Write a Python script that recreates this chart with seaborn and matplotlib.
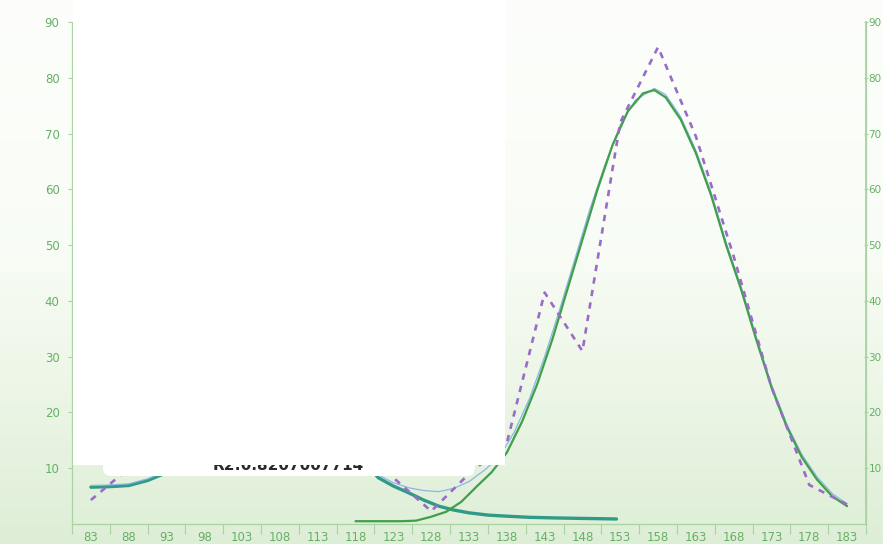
import numpy as np
import pandas as pd
import seaborn as sns
import matplotlib.pyplot as plt
from matplotlib.patches import Rectangle, FancyBboxPatch
from matplotlib.transforms import IdentityTransform, Bbox

# Data
categories = [83, 88, 93, 98, 103, 108, 113, 118, 123, 128, 133,
              138, 143, 148, 153, 158, 163, 168, 173, 178, 183]
observed = [4.3, 10, 18, 26, 31, 29, 22, 17, 8.3, 2.3, 9,
            14.5, 41.5, 31, 72, 85.5, 69.5, 48, 24.5, 7, 3.5]

# main peak fit (green)
fit_x = [118, 121, 124, 126, 128, 130, 132, 134, 136, 138, 140, 142, 144, 146,
         148, 150, 152, 154, 156, 157.5, 159, 161, 163, 165, 167, 169, 171,
         173, 175, 177, 179, 181, 183]
fit_y = [0.5, 0.5, 0.5, 0.6, 1.3, 2.2, 4.0, 6.7, 9.3, 12.8, 18.3, 25, 33, 42,
         51, 60, 68, 74, 77.2, 77.8, 76.5, 72.5, 66.5, 59, 50, 42, 33,
         24.5, 17.5, 12, 8, 5, 3.2]

# left component (teal)
left_x = [83, 85.5, 88, 90.5, 93, 98, 103, 108, 113, 118, 121, 123, 125, 127,
          129, 131, 133, 135.5, 138, 141, 144, 148, 152.5]
left_y = [6.6, 6.7, 6.9, 7.8, 9.2, 16, 22, 24, 20, 13, 8.3, 6.8, 5.6, 4.3,
          3.2, 2.5, 2.0, 1.6, 1.4, 1.2, 1.1, 1.0, 0.9]

# sum of components (thin blue)
sum_x = [83, 85.5, 88, 90.5, 93, 98, 103, 108, 113, 118, 121, 123, 125, 127,
         129, 131, 133, 135, 137, 139, 141, 143, 145, 147, 149, 151, 153, 155,
         157.5, 159, 161, 163, 165, 167, 169, 171, 173, 175, 177, 179, 181, 183]
sum_y = [6.9, 7.0, 7.2, 8.1, 9.5, 16.3, 22.3, 24.3, 20.3, 13.5, 8.8, 7.4, 6.5, 6.0,
         5.8, 6.4, 7.6, 9.6, 12, 16.5, 22.5, 30, 38.5, 47.5, 56.5, 64.5, 71.5, 76,
         78.1, 77, 73, 67, 59.5, 50.5, 42.5, 33.5, 25, 18, 12.5, 8.5, 5.5, 3.6]

label_text = "R2:0.8207007714"

W, H = 883, 544
sns.set_theme(style="white")
plt.rcParams['font.family'] = ['DejaVu Sans']

fig = plt.figure(figsize=(W / 100, H / 100), dpi=100)

# scanned paper background: white at the top, pale green towards the bottom
bg = fig.add_axes([0, 0, 1, 1], zorder=-10)
rows = np.linspace(0, 1, 200)
r = np.interp(rows, [0, 0.45, 0.6, 1], [0.99, 0.975, 0.95, 0.87])
g = np.interp(rows, [0, 0.45, 0.6, 1], [0.995, 0.99, 0.975, 0.935])
b = np.interp(rows, [0, 0.45, 0.6, 1], [0.985, 0.965, 0.93, 0.84])
grad = np.stack([r, g, b], axis=1)[:, None, :].repeat(2, axis=1)
bg.imshow(grad, aspect='auto', extent=[0, 1, 0, 1])
bg.axis('off')

ax = fig.add_axes([72 / W, 20 / H, 794 / W, 502 / H])
ax.patch.set_alpha(0)

obs_df = pd.DataFrame({"x": categories, "y": observed})
sns.lineplot(data=pd.DataFrame({"x": left_x, "y": left_y}), x="x", y="y", ax=ax,
             color="#2f9a86", lw=2.4, estimator=None)
sns.lineplot(data=pd.DataFrame({"x": sum_x, "y": sum_y}), x="x", y="y", ax=ax,
             color="#8db6e6", lw=0.9, estimator=None)
sns.lineplot(data=pd.DataFrame({"x": fit_x, "y": fit_y}), x="x", y="y", ax=ax,
             color="#3f9f4a", lw=1.6, estimator=None)
sns.lineplot(data=obs_df, x="x", y="y", ax=ax, color="#9a6cc8", lw=1.9,
             linestyle=(0, (2.4, 2.4)), estimator=None)

axis_col = "#a9d3a2"
text_col = "#66b066"
ax.set_xlim(80.5, 185.5)
ax.set_ylim(0, 90)
ax.set_xlabel("")
ax.set_ylabel("")
ax.set_xticks(categories)
ax.set_xticklabels([str(c) for c in categories])
ax.set_xticks([c - 2.5 for c in categories] + [185.5], minor=True)
ax.tick_params(axis='x', which='major', length=0, pad=5, labelsize=8.5, labelcolor=text_col)
ax.tick_params(axis='x', which='minor', length=7, width=0.8, direction='out', color=axis_col, bottom=True)
ax.set_yticks(range(10, 100, 10))
ax.tick_params(axis='y', length=3, width=0.8, direction='out', pad=6, color=axis_col,
               labelsize=8.5, labelcolor=text_col, left=True)
ax.spines['top'].set_visible(False)
for side in ['left', 'bottom', 'right']:
    ax.spines[side].set_color(axis_col)
    ax.spines[side].set_linewidth(0.9)

ax2 = ax.twinx()
ax2.set_ylim(0, 90)
ax2.set_yticks(range(10, 100, 10))
ax2.tick_params(axis='y', length=3, width=0.8, direction='inout', pad=0.3, color=axis_col,
                labelsize=7.5, labelcolor=text_col, right=True)
for side in ['top', 'left', 'bottom']:
    ax2.spines[side].set_visible(False)
ax2.spines['right'].set_color(axis_col)

# white cover that hides the upper-left part of the scan
fig.add_artist(FancyBboxPatch((103, H - 476), 372, 40,
                              boxstyle="round,pad=0,rounding_size=8",
                              transform=IdentityTransform(), facecolor="white",
                              edgecolor="none", zorder=8))
label = fig.text(213, H - 470, label_text, transform=IdentityTransform(), fontsize=11,
                 fontweight='bold', color="#2a2a2a", va='baseline', ha='left', zorder=9)
label.set_clip_box(Bbox.from_extents(0, 0, W, H - 464))
label.set_clip_on(True)
fig.add_artist(Rectangle((73, H - 465), 432, 465, transform=IdentityTransform(),
                         facecolor="white", edgecolor="none", zorder=10))

fig.savefig("out.png", dpi=100)
